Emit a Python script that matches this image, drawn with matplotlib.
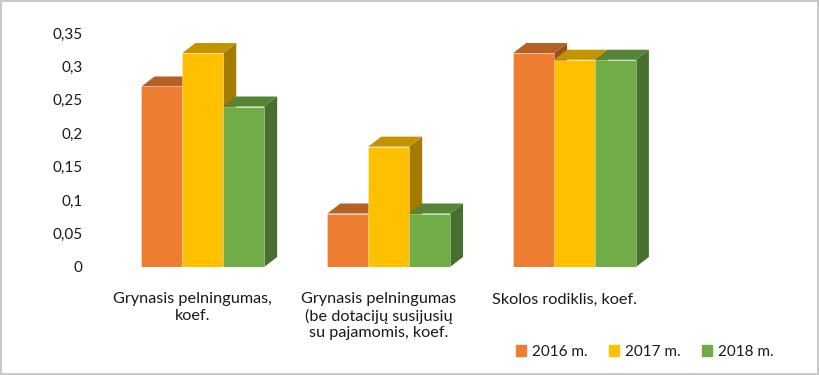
import matplotlib.pyplot as plt
import numpy as np
from matplotlib.patches import Polygon, Rectangle
from matplotlib.colors import to_rgb

plt.rcParams['font.family'] = ['Lato', 'DejaVu Sans']

# Data
categories = ['Grynasis pelningumas,\nkoef.',
              'Grynasis pelningumas\n(be dotacijų susijusių\nsu pajamomis, koef.',
              'Skolos rodiklis, koef.']
years = ['2016 m.', '2017 m.', '2018 m.']
v2016 = [0.27, 0.08, 0.32]
v2017 = [0.32, 0.18, 0.31]
v2018 = [0.24, 0.08, 0.31]
series = [v2016, v2017, v2018]
colors = ['#ED7D31', '#FFC000', '#70AD47']
yticks = [0, 0.05, 0.1, 0.15, 0.2, 0.25, 0.3, 0.35]

fig = plt.figure(figsize=(8.2, 3.75), dpi=100)
ax = fig.add_axes([0.134, 0.288, 0.680, 0.624])

x = np.arange(len(categories))
width = 0.22
dx, dy = 0.07, 0.015   # pseudo-3D depth offsets

def shade(c, f):
    r, g, b = to_rgb(c)
    return (r * f, g * f, b * f)

for i, (vals, col) in enumerate(zip(series, colors)):
    bars = ax.bar(x + (i - 1) * width, vals, width, color=col,
                  edgecolor=(1, 1, 1, 0.35), linewidth=0.6, zorder=2 + 3 * i)
    for b in bars:
        x0 = b.get_x()
        x1 = x0 + b.get_width()
        h = b.get_height()
        top = Polygon([(x0, h), (x1, h), (x1 + dx, h + dy), (x0 + dx, h + dy)],
                      closed=True, facecolor=shade(col, 0.77), edgecolor='none',
                      zorder=1 + 3 * i)
        side = Polygon([(x1, 0), (x1 + dx, dy), (x1 + dx, h + dy), (x1, h)],
                       closed=True, facecolor=shade(col, 0.64), edgecolor='none',
                       zorder=1 + 3 * i)
        ax.add_patch(side)
        ax.add_patch(top)

ax.set_xlim(-0.5, 2.5)
ax.set_ylim(0, 0.35)
ax.set_yticks(yticks)
ax.set_yticklabels([f'{t:g}'.replace('.', ',') for t in yticks], fontsize=11,
                   color='#1a1a1a')
ax.tick_params(axis='y', length=0, pad=19.5)
ax.set_xticks([])
for s in ax.spines.values():
    s.set_visible(False)

for xi, lab in zip(x, categories):
    ax.text(xi - 0.055, -0.038, lab, ha='center', va='top', fontsize=11.7,
            linespacing=1.2, color='#1a1a1a')

handles = [Rectangle((0, 0), 1, 1, color=c) for c in colors]
fig.legend(handles, years, loc='center', bbox_to_anchor=(0.786, 0.061), ncol=3,
           frameon=False, fontsize=11, handlelength=0.7, handleheight=0.7,
           handletextpad=0.35, columnspacing=1.4, labelcolor='#1a1a1a')

fig.patches.append(Rectangle((0.001, 0.002), 0.997, 0.995, transform=fig.transFigure,
                             fill=False, edgecolor='#BFBFBF', linewidth=1.2))

fig.savefig('out.png', dpi=100)
